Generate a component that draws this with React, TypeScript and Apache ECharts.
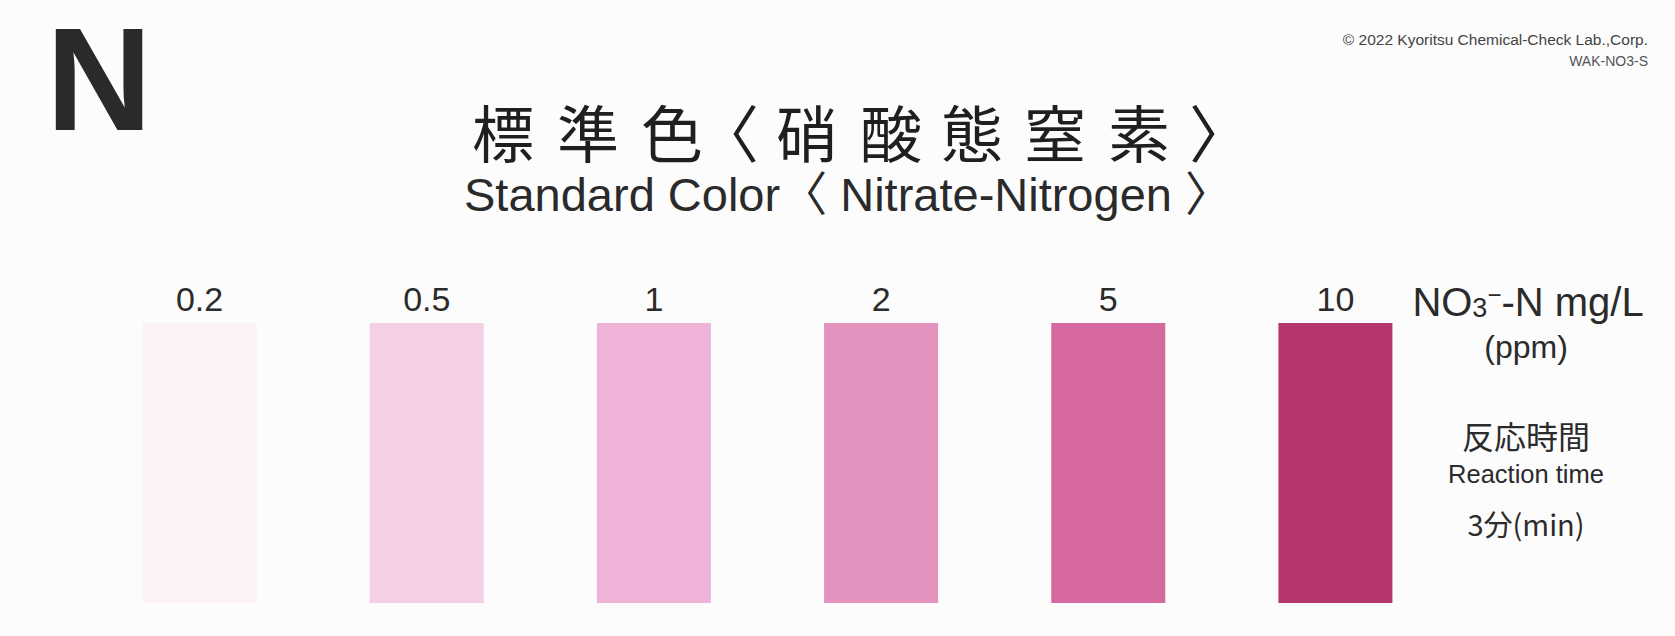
import React, { useEffect, useRef } from "react";
import * as echarts from "echarts";

const concentrations = ["0.2", "0.5", "1", "2", "5", "10"];
const swatchValues = [1, 1, 1, 1, 1, 1];
const swatchColors = ["#fcf2f6", "#f5cfe6", "#eeb3d7", "#e492be", "#d4689f", "#b5356f"];
const titleJaChars = ["標", "準", "色", "〈", "硝", "酸", "態", "窒", "素", "〉"];
const titleEn = "Standard Color〈 Nitrate-Nitrogen 〉";
const unitLines = ["(ppm)"];
const reactionLines = ["反応時間", "Reaction time", "3分(min)"];
const copyrightLines = ["© 2022 Kyoritsu Chemical-Check Lab.,Corp.", "WAK-NO3-S"];

const TEXT = "#2b2b2b";
const SANS = "'Liberation Sans', 'Noto Sans CJK JP', sans-serif";
const CJK = "'Noto Sans CJK JP', sans-serif";

// layout of the spaced-out Japanese title (x centre of each glyph box)
const TITLE_X = [503, 588, 672, 728, 807, 891, 972, 1055, 1139, 1220];

export default function App() {
  const ref = useRef<HTMLDivElement>(null);
  useEffect(() => {
    if (!ref.current) return;
    const chart = echarts.init(ref.current, null, { renderer: "svg" });
    const titleGraphics = titleJaChars.map((ch, i) => ({
      type: "text",
      x: TITLE_X[i],
      y: 131,
      style: {
        text: ch,
        fontSize: 62,
        lineHeight: 62,
        fill: "#1f1f1f",
        fontFamily: CJK,
        align: "center",
        verticalAlign: "middle",
      },
    }));
    chart.setOption({
      animation: false,
      backgroundColor: "#fcfcfc",
      grid: { left: 86, right: 226, top: 323, bottom: 33 },
      xAxis: {
        type: "category",
        position: "top",
        data: concentrations,
        axisLine: { show: false },
        axisTick: { show: false },
        axisLabel: { fontSize: 34, color: TEXT, fontFamily: SANS, margin: 7 },
      },
      yAxis: { type: "value", min: 0, max: 1, show: false, splitLine: { show: false } },
      series: [
        {
          type: "bar",
          barWidth: 114,
          data: swatchValues.map((v, i) => ({ value: v, itemStyle: { color: swatchColors[i] } })),
        },
      ],
      graphic: [
        {
          type: "text",
          x: 46,
          y: 79,
          style: {
            text: "N",
            fontSize: 147,
            lineHeight: 112,
            fontWeight: "bold",
            fill: "#2a2a2a",
            fontFamily: SANS,
            align: "left",
            verticalAlign: "middle",
          },
        },
        {
          type: "text",
          x: 1648,
          y: 39,
          style: { text: copyrightLines[0], fontSize: 15.5, fill: "#444", fontFamily: SANS, align: "right", verticalAlign: "middle" },
        },
        {
          type: "text",
          x: 1648,
          y: 61,
          style: { text: copyrightLines[1], fontSize: 14, fill: "#555", fontFamily: SANS, align: "right", verticalAlign: "middle" },
        },
        ...titleGraphics,
        {
          type: "text",
          x: 848,
          y: 194,
          style: {
            text: titleEn,
            fontSize: 47,
            lineHeight: 48,
            fill: "#2a2a2a",
            fontFamily: SANS,
            align: "center",
            verticalAlign: "middle",
          },
        },
        {
          type: "text",
          x: 1528,
          y: 302,
          style: {
            text: "NO{sub|3}{sup|−}-N mg/L",
            fontSize: 40,
            fill: TEXT,
            fontFamily: SANS,
            align: "center",
            verticalAlign: "middle",
            rich: {
              sub: { fontSize: 27, fill: TEXT, fontFamily: SANS, padding: [11, 0, 0, 0] },
              sup: { fontSize: 24, fill: TEXT, fontFamily: SANS, padding: [0, 0, 16, 0] },
            },
          },
        },
        {
          type: "text",
          x: 1526,
          y: 347,
          style: { text: unitLines[0], fontSize: 32, fill: TEXT, fontFamily: SANS, align: "center", verticalAlign: "middle" },
        },
        {
          type: "text",
          x: 1526,
          y: 435,
          style: { text: reactionLines[0], fontSize: 32, fill: TEXT, fontFamily: CJK, align: "center", verticalAlign: "middle" },
        },
        {
          type: "text",
          x: 1526,
          y: 474,
          style: { text: reactionLines[1], fontSize: 25.5, fill: TEXT, fontFamily: SANS, align: "center", verticalAlign: "middle" },
        },
        {
          type: "text",
          x: 1526,
          y: 523,
          style: { text: reactionLines[2], fontSize: 29, fill: TEXT, fontFamily: CJK, align: "center", verticalAlign: "middle" },
        },
      ],
    });
    return () => chart.dispose();
  }, []);
  return (
    <div
      ref={ref}
      style={{ position: "fixed", left: 0, top: 0, width: 1675, height: 636 }}
    />
  );
}
